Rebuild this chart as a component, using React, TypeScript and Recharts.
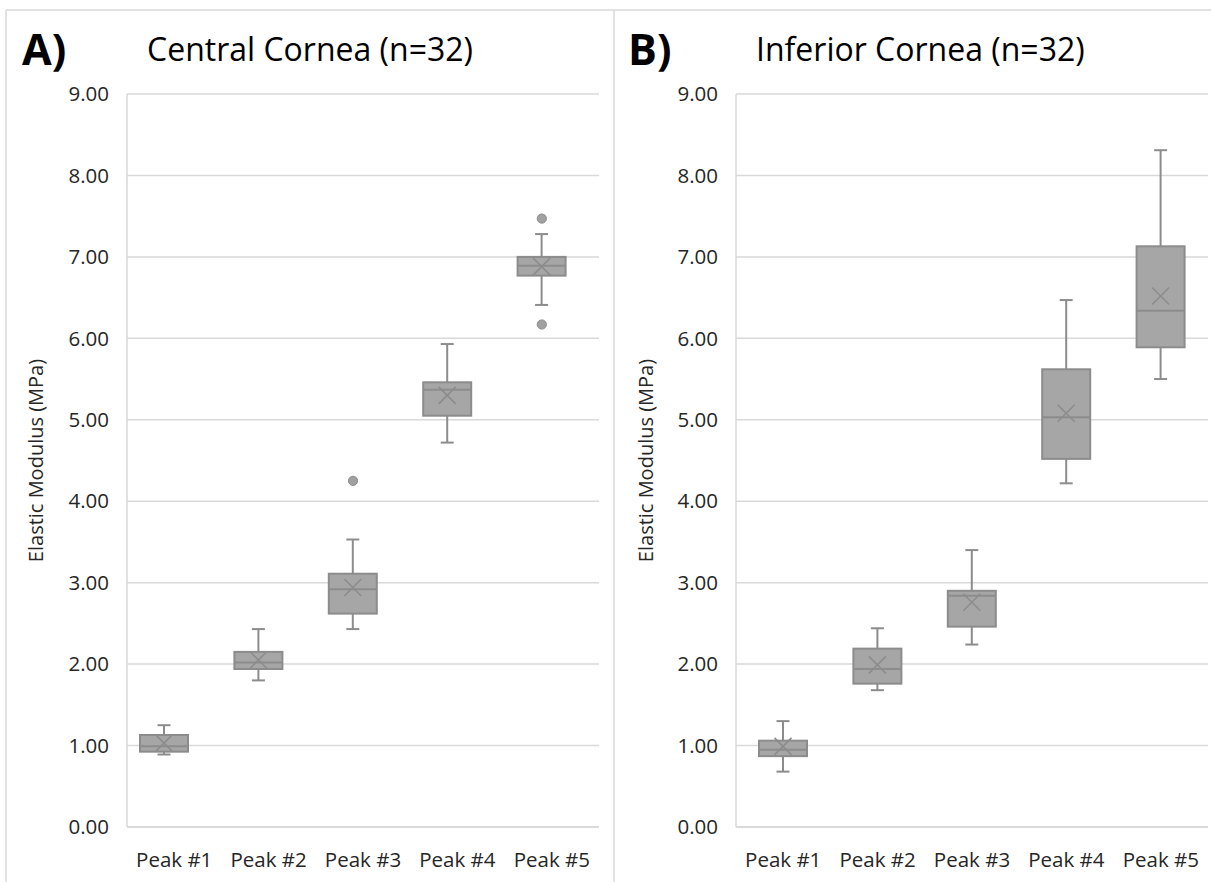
import React from 'react';
import { ComposedChart, Bar, Line, XAxis, YAxis, CartesianGrid } from 'recharts';

const categories = ['Peak #1', 'Peak #2', 'Peak #3', 'Peak #4', 'Peak #5'];
const yTicks = [0, 1, 2, 3, 4, 5, 6, 7, 8, 9];

const centralMin = [0.89, 1.8, 2.43, 4.72, 6.41];
const centralQ1 = [0.925, 1.94, 2.62, 5.05, 6.77];
const centralMedian = [0.99, 2.02, 2.92, 5.37, 6.89];
const centralQ3 = [1.13, 2.15, 3.11, 5.46, 7.0];
const centralMax = [1.25, 2.43, 3.53, 5.93, 7.28];
const centralMean = [1.03, 2.05, 2.94, 5.3, 6.88];
const centralOutliers: number[][] = [[], [], [4.25], [], [7.47, 6.17]];

const inferiorMin = [0.68, 1.68, 2.24, 4.22, 5.5];
const inferiorQ1 = [0.87, 1.76, 2.46, 4.52, 5.89];
const inferiorMedian = [0.95, 1.94, 2.84, 5.03, 6.34];
const inferiorQ3 = [1.06, 2.19, 2.9, 5.62, 7.13];
const inferiorMax = [1.3, 2.44, 3.4, 6.47, 8.31];
const inferiorMean = [0.99, 1.99, 2.76, 5.08, 6.52];
const inferiorOutliers: number[][] = [[], [], [], [], []];

const FONT = "'Open Sans', sans-serif";
const GRID = '#d9d9d9';
const BOX_FILL = '#a6a6a6';
const BOX_STROKE = '#8c8c8c';
const TEXT = '#262626';

function buildRows(
  mins: number[], q1s: number[], meds: number[], q3s: number[], maxs: number[], means: number[], outs: number[][]
) {
  return categories.map((name, i) => ({
    name,
    range: [mins[i], maxs[i]],
    min: mins[i],
    q1: q1s[i],
    median: meds[i],
    q3: q3s[i],
    max: maxs[i],
    mean: means[i],
    out1: outs[i][0] ?? null,
    out2: outs[i][1] ?? null,
  }));
}

const centralRows = buildRows(centralMin, centralQ1, centralMedian, centralQ3, centralMax, centralMean, centralOutliers);
const inferiorRows = buildRows(inferiorMin, inferiorQ1, inferiorMedian, inferiorQ3, inferiorMax, inferiorMean, inferiorOutliers);

const makeBoxShape = (shift: number) => (props: any) => {
  const { x, y, width, height, payload } = props;
  if (x == null || y == null || !payload) return <g />;
  const top = Math.min(y, y + height);
  const bottom = Math.max(y, y + height);
  const { min, max, q1, q3, median, mean } = payload;
  const k = (bottom - top) / (max - min);
  const py = (v: number) => top + (max - v) * k;
  const left = x + shift;
  const cx = left + width / 2;
  const cap = 6.5;
  const xs = 8.5;
  const my = py(mean);
  return (
    <g>
      <line x1={cx} x2={cx} y1={py(max)} y2={py(q3)} stroke={BOX_STROKE} strokeWidth={2} />
      <line x1={cx} x2={cx} y1={py(q1)} y2={py(min)} stroke={BOX_STROKE} strokeWidth={2} />
      <line x1={cx - cap} x2={cx + cap} y1={py(max)} y2={py(max)} stroke={BOX_STROKE} strokeWidth={2} />
      <line x1={cx - cap} x2={cx + cap} y1={py(min)} y2={py(min)} stroke={BOX_STROKE} strokeWidth={2} />
      <rect x={left} y={py(q3)} width={width} height={py(q1) - py(q3)} fill={BOX_FILL} stroke={BOX_STROKE} strokeWidth={2} />
      <line x1={left} x2={left + width} y1={py(median)} y2={py(median)} stroke={BOX_STROKE} strokeWidth={2} />
      <line x1={cx - xs} x2={cx + xs} y1={my - xs} y2={my + xs} stroke={BOX_STROKE} strokeWidth={1.6} />
      <line x1={cx - xs} x2={cx + xs} y1={my + xs} y2={my - xs} stroke={BOX_STROKE} strokeWidth={1.6} />
    </g>
  );
};

const makeOutlierDot = (shift: number) => (props: any) => {
  const { cx, cy, value, index } = props;
  if (value == null || cy == null || cx == null || Number.isNaN(cy)) return <g key={`e${index}`} />;
  return <circle key={`o${index}`} cx={cx + shift} cy={cy} r={4.6} fill="#a0a0a0" stroke="#8c8c8c" strokeWidth={1} />;
};

function Panel({ rows, left, width, yAxisWidth, rightMargin, shift }: any) {
  return (
    <div style={{ position: 'absolute', left, top: 0 }}>
      <ComposedChart
        width={width}
        height={882}
        data={rows}
        margin={{ top: 94, right: rightMargin, bottom: 15, left: 20 }}
        barCategoryGap={0}
      >
        <CartesianGrid horizontal vertical={false} stroke={GRID} strokeWidth={1.5} />
        <XAxis
          dataKey="name"
          type="category"
          interval={0}
          tickLine={false}
          tickSize={0}
          tickMargin={25}
          height={40}
          axisLine={{ stroke: GRID, strokeWidth: 1.5 }}
          tick={{ fill: TEXT, fontSize: 20.5, fontFamily: FONT }}
        />
        <YAxis
          type="number"
          domain={[0, 9]}
          ticks={yTicks}
          interval={0}
          width={yAxisWidth}
          tickLine={false}
          tickSize={0}
          tickMargin={18}
          axisLine={{ stroke: GRID, strokeWidth: 1.5 }}
          tickFormatter={(v: number) => v.toFixed(2)}
          tick={{ fill: TEXT, fontSize: 20.5, fontFamily: FONT }}
          label={{
            value: 'Elastic Modulus (MPa)',
            angle: -90,
            position: 'insideLeft',
            offset: 16,
            style: { textAnchor: 'middle', fontSize: 20, fontFamily: FONT, fill: TEXT },
          }}
        />
        <Bar dataKey="range" barSize={48} shape={makeBoxShape(shift)} isAnimationActive={false} />
        <Line dataKey="out1" stroke="none" dot={makeOutlierDot(shift)} activeDot={false} isAnimationActive={false} legendType="none" />
        <Line dataKey="out2" stroke="none" dot={makeOutlierDot(shift)} activeDot={false} isAnimationActive={false} legendType="none" />
      </ComposedChart>
    </div>
  );
}

export default function App() {
  return (
    <div style={{ position: 'absolute', left: 0, top: 0, width: 1211, height: 882, background: '#fff', overflow: 'hidden', fontFamily: FONT }}>
      <Panel rows={centralRows} left={0} width={610} yAxisWidth={107} rightMargin={11} shift={-10} />
      <Panel rows={inferiorRows} left={610} width={601} yAxisWidth={106} rightMargin={3} shift={0} />
      <svg width={1211} height={882} style={{ position: 'absolute', left: 0, top: 0, pointerEvents: 'none' }}>
        <line x1={6} x2={1211} y1={10} y2={10} stroke={GRID} strokeWidth={1.5} />
        <line x1={6} x2={6} y1={10} y2={882} stroke={GRID} strokeWidth={1.5} />
        <line x1={614} x2={614} y1={10} y2={882} stroke={GRID} strokeWidth={1.5} />
        <text x={22} y={65} fontFamily={FONT} fontWeight="bold" fontSize={43} fill="#000">A)</text>
        <text x={147} y={61} fontFamily={FONT} fontSize={32} fill="#000">Central Cornea (n=32)</text>
        <text x={628} y={65} fontFamily={FONT} fontWeight="bold" fontSize={43} fill="#000">B)</text>
        <text x={756} y={61} fontFamily={FONT} fontSize={32} fill="#000">Inferior Cornea (n=32)</text>
      </svg>
    </div>
  );
}
